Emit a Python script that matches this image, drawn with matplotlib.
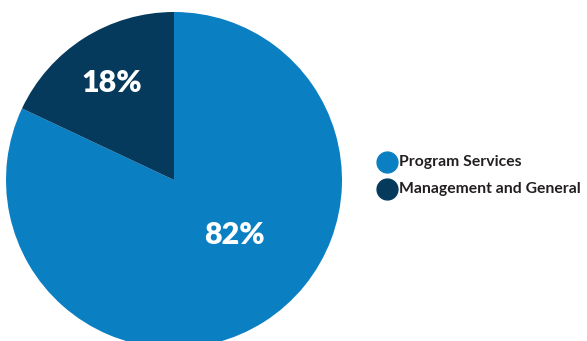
import matplotlib.pyplot as plt
from matplotlib.lines import Line2D

labels = ["Program Services", "Management and General"]
values = [82, 18]
colors = ["#0a7fc2", "#053a5c"]

W, H = 587, 341
fig = plt.figure(figsize=(W / 100, H / 100), dpi=100)
ax = fig.add_axes([6 / W, -7 / H, 336 / W, 336 / H])
ax.pie(values, colors=colors, startangle=90, counterclock=False, radius=1,
       wedgeprops=dict(linewidth=0), frame=False)
ax.set_xlim(-1, 1)
ax.set_ylim(-1, 1)
ax.set_aspect("auto")
ax.axis("off")

# percentage labels
pos = [(0.357, -0.33), (-0.369, 0.575)]
for v, (x, y) in zip(values, pos):
    ax.text(x, y, f"{v}%", color="white", fontsize=22, fontweight="heavy",
            family="Lato", ha="center", va="center")

# legend drawn by hand
rows_y = [162, 189]
for lab, c, py in zip(labels, colors, rows_y):
    fig.add_artist(Line2D([387 / W], [1 - py / H], marker="o", markersize=15,
                          markerfacecolor=c, markeredgecolor=c, linestyle="none",
                          transform=fig.transFigure))
    fig.text(399 / W, 1 - py / H, lab, ha="left", va="center", family="Lato",
             fontweight="bold", fontsize=11.3, color="#231f20")

fig.savefig("out.png", dpi=100)
